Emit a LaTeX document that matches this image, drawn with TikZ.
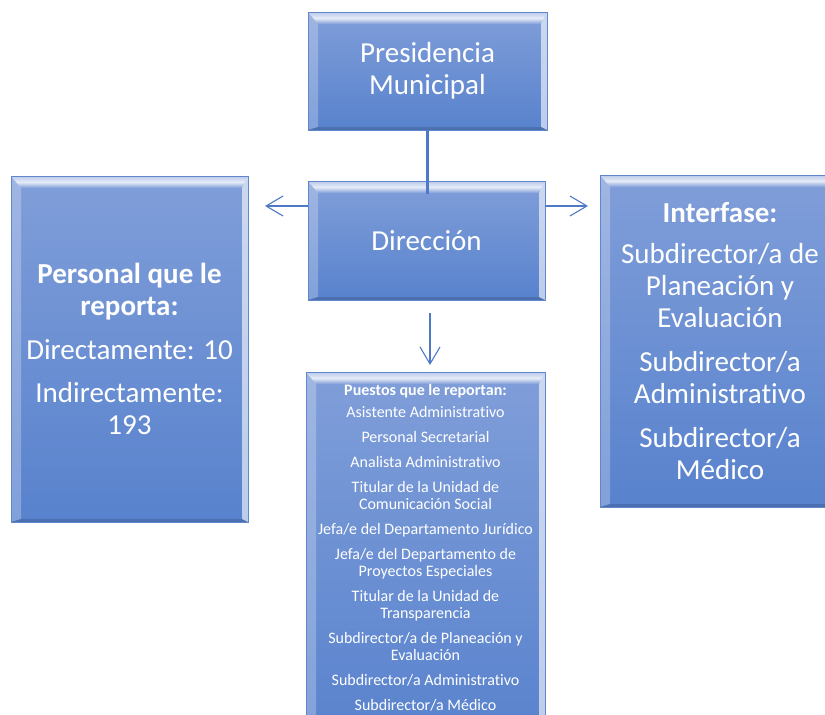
\documentclass[tikz,border=0pt]{standalone}
\usepackage{fontspec}
\setmainfont{Carlito}[Ligatures=NoCommon]
\usetikzlibrary{arrows.meta,calc}
\definecolor{btop}{RGB}{128,158,217}
\definecolor{bbot}{RGB}{88,130,205}
\definecolor{bedge}{RGB}{96,134,204}
\definecolor{conn}{RGB}{78,121,198}
\begin{document}
\begin{tikzpicture}[x=1pt,y=-1pt,
  bevelbox/.style={rectangle, inner sep=0pt, outer sep=0pt, text=white, align=center,
    top color=btop, bottom color=bbot, draw=bedge, line width=0.6pt,
    path picture={
      \coordinate (pnw) at (path picture bounding box.north west);
      \coordinate (pne) at (path picture bounding box.north east);
      \coordinate (psw) at (path picture bounding box.south west);
      \coordinate (pse) at (path picture bounding box.south east);
      \path[top color=btop!55!white, bottom color=btop, middle color=white!80!btop]
        (pnw) -- (pne) -- ($(pne)+(-6,12)$) -- ($(pnw)+(10,12)$) -- cycle;
      \fill[white, opacity=0.25]
        (pnw) -- ($(pnw)+(10,12)$) -- ($(psw)+(10,-3)$) -- (psw) -- cycle;
      \fill[white, opacity=0.6]
        (pne) -- ($(pne)+(-6,12)$) -- ($(pse)+(-6,-3)$) -- (pse) -- cycle;
      \fill[bbot!60!black, opacity=0.35]
        (psw) -- ($(psw)+(10,-3)$) -- ($(pse)+(-6,-3)$) -- (pse) -- cycle;
    }},
  bigtext/.style={font=\fontsize{29}{32}\selectfont},
  smalltext/.style={font=\fontsize{16}{17}\selectfont},
  arr/.style={draw=conn, line width=1.1pt, -{Straight Barb[length=17pt,width=20pt,line width=1.1pt]}},
]
\useasboundingbox (0,0) rectangle (825,715);

% boxes
\node[bevelbox, bigtext, minimum width=239pt, minimum height=118pt] (pres) at (427.5,71)
  {Presidencia\\Municipal};
\node[bevelbox, bigtext, minimum width=237pt, minimum height=119pt] (dir) at (426.5,240.5)
  {Dirección};
\node[bevelbox, bigtext, minimum width=237pt, minimum height=346pt] (lbox) at (129.5,349)
  {\textbf{Personal que le}\\\textbf{reporta:}\\[12pt]Directamente: 10\\[11pt]Indirectamente:\\193};
\node[bevelbox, bigtext, minimum width=240pt, minimum height=332pt] (rbox) at (720,341)
  {\textbf{Interfase:}\\[9pt]Subdirector/a de\\Planeación y\\Evaluación\\[12pt]Subdirector/a\\Administrativo\\[12pt]Subdirector/a\\Médico};
\node[bevelbox, minimum width=239pt, minimum height=373pt] (bot) at (425.5,558.5) {};
\node[smalltext, text=white, align=center, inner sep=0pt, anchor=north] (bottxt) at (425.5,384)
  {\textbf{Puestos que le reportan:}\\[5pt]
   Asistente Administrativo\\[8pt]
   Personal Secretarial\\[8pt]
   Analista Administrativo\\[8pt]
   Titular de la Unidad de\\Comunicación Social\\[8pt]
   Jefa/e del Departamento Jurídico\\[8pt]
   Jefa/e del Departamento de\\Proyectos Especiales\\[8pt]
   Titular de la Unidad de\\Transparencia\\[8pt]
   Subdirector/a de Planeación y\\Evaluación\\[8pt]
   Subdirector/a Administrativo\\[8pt]
   Subdirector/a Médico};

% connectors
\draw[conn, line width=3.5pt] (pres.south) -- ($(pres.south |- dir.north)+(0,13)$);
\coordinate (lend) at (265,206);
\coordinate (rend) at (588,206);
\coordinate (dstart) at (430,313);
\draw[arr] ([yshift=34.5pt]dir.west) -- (lend);
\draw[arr] ([yshift=34.5pt]dir.east) -- (rend);
\draw[arr] (dstart) -- ($(dstart |- bot.north)+(0,-7)$);
\end{tikzpicture}
\end{document}
